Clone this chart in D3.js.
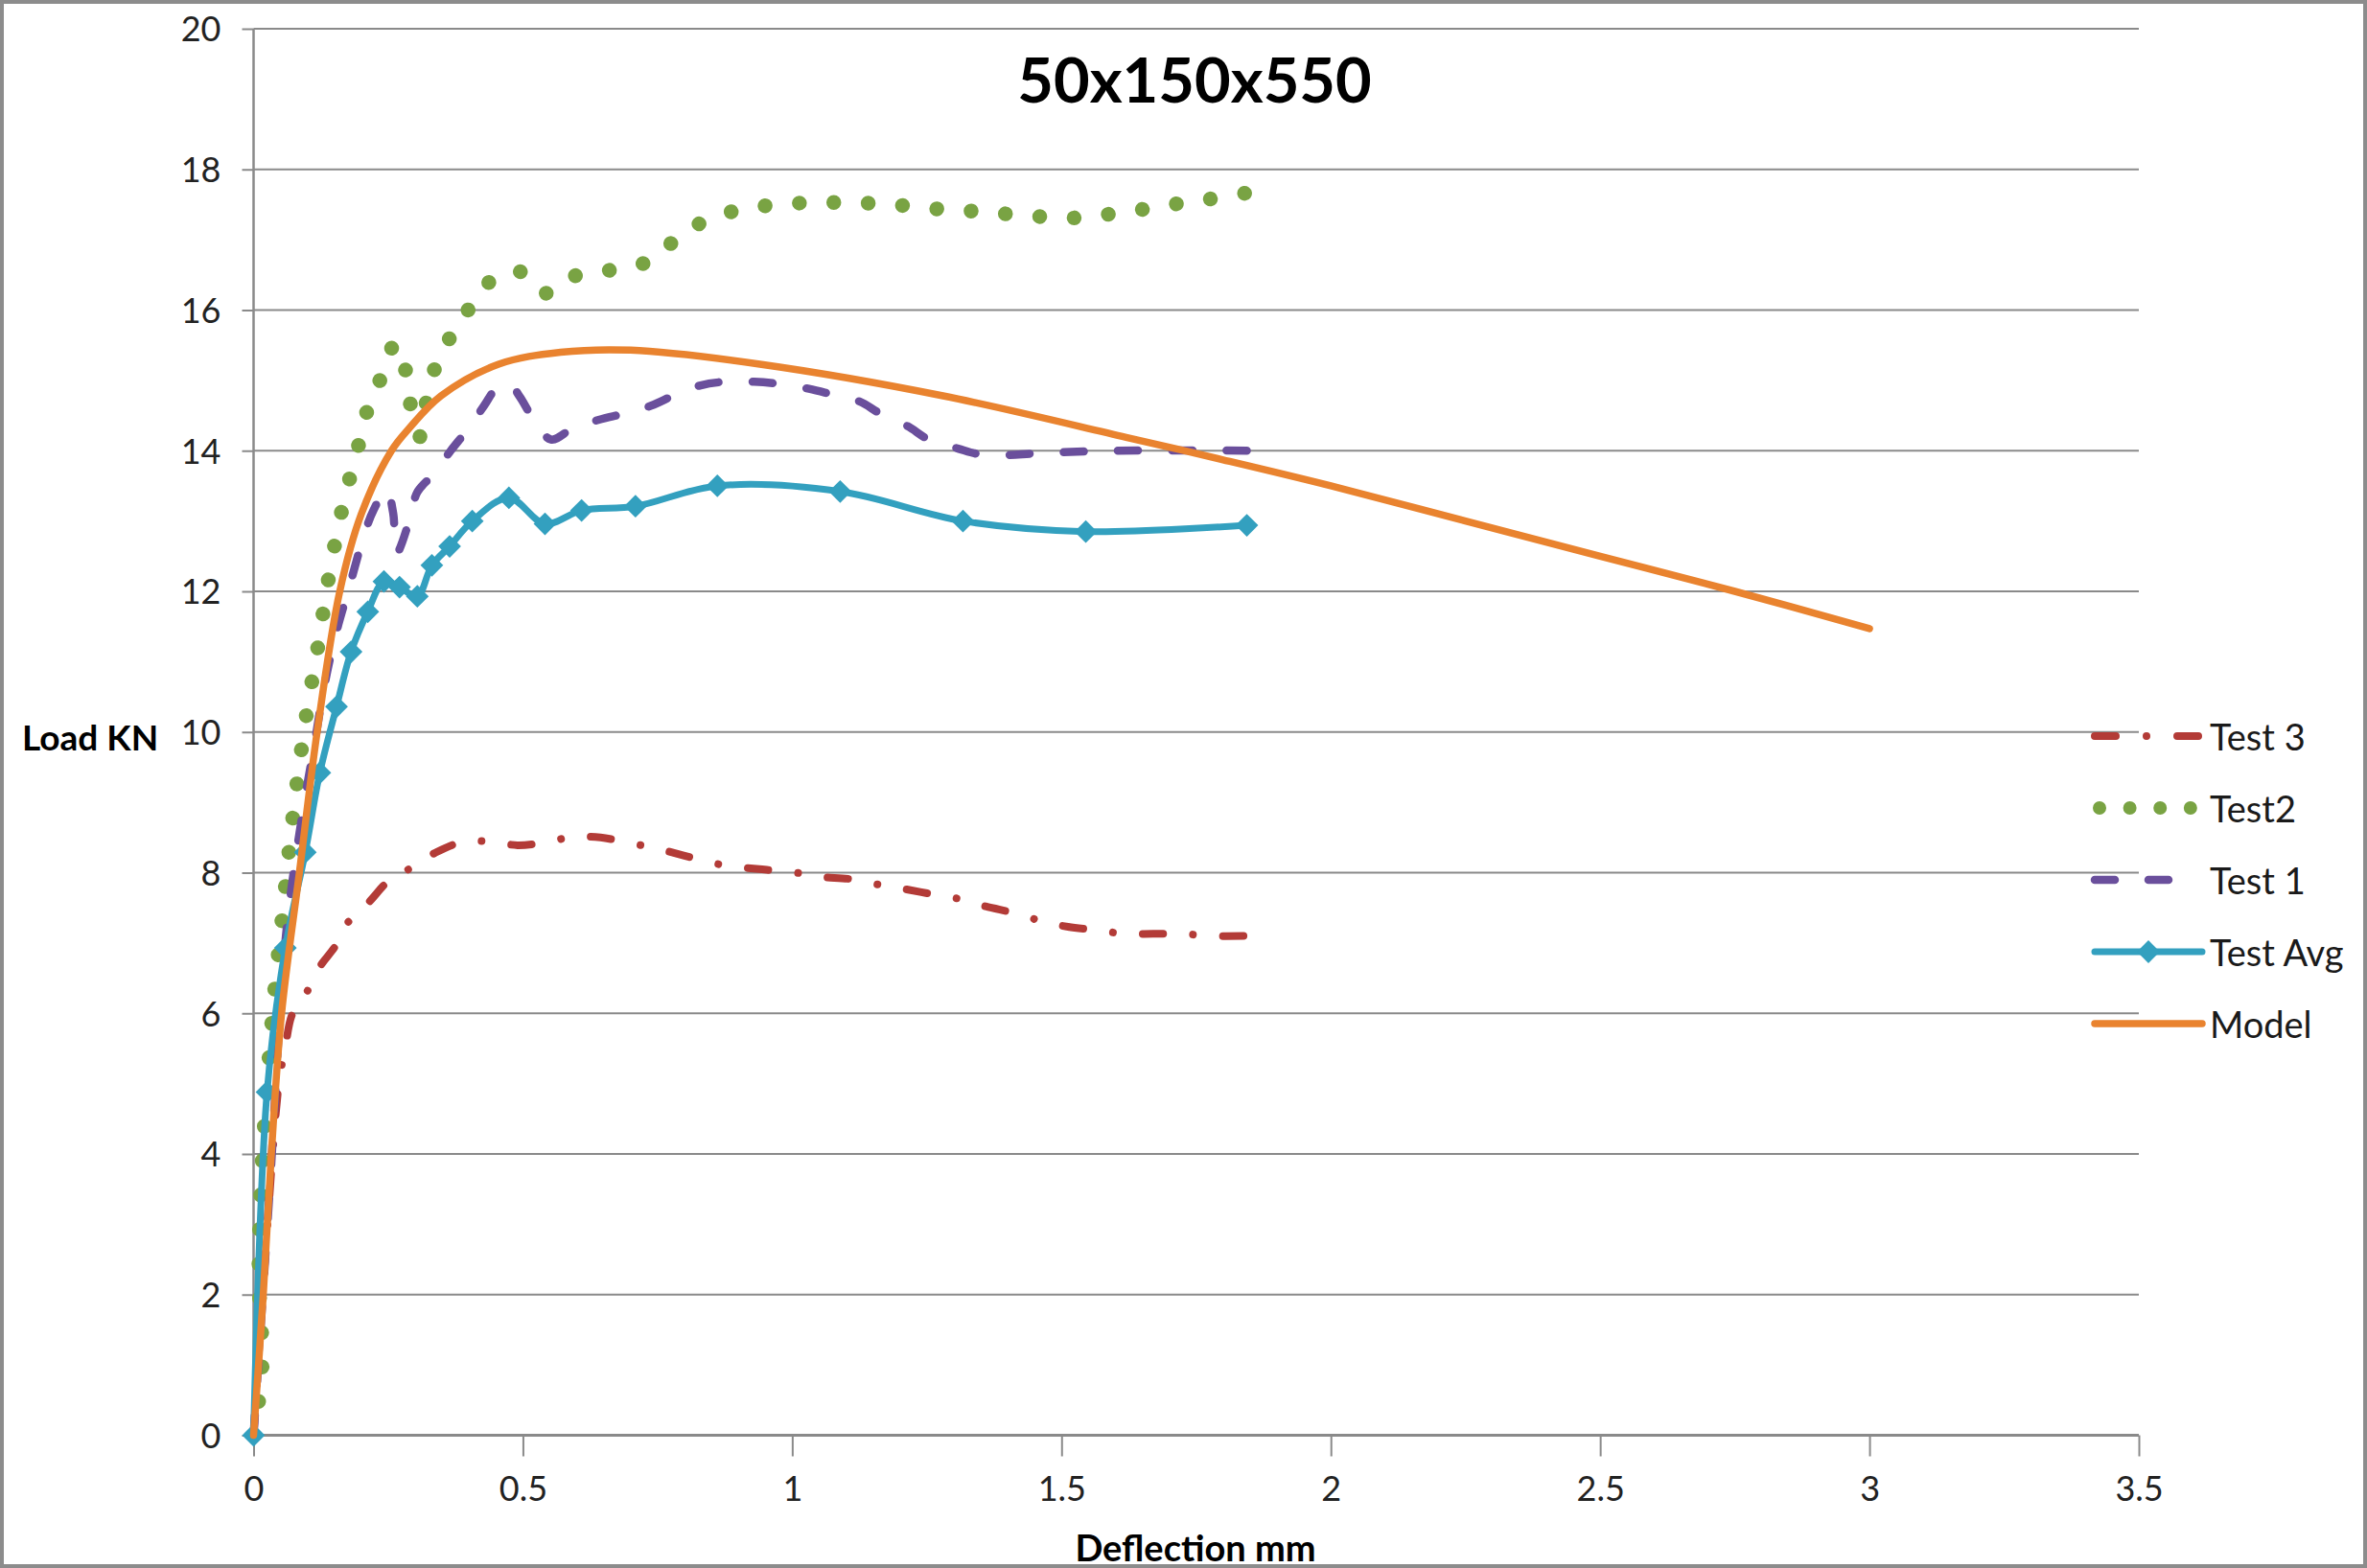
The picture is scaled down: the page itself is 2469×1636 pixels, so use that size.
<!DOCTYPE html>
<meta charset="utf-8">
<style>
body { margin: 0; background: #fff; }
svg { display: block; font-family: Lato, "Open Sans", sans-serif; }
.axis path { display: none; }
.axis line { stroke: #8a8a8a; stroke-width: 2; }
.axis text { fill: #222; font-size: 36px; font-family: Lato, sans-serif; }
.grid line { stroke: #8a8a8a; stroke-width: 2; }
.legend text { fill: #1a1a1a; font-size: 38px; }
</style>
<svg width="2469" height="1636"></svg>
<script src="https://cdn.jsdelivr.net/npm/d3@7"></script>
<script>
// tick values
const xTicks = [0, 0.5, 1, 1.5, 2, 2.5, 3, 3.5];
const yTicks = [0, 2, 4, 6, 8, 10, 12, 14, 16, 18, 20];

// Test 3 (dash dot)
const test3X = [0, 0.024, 0.047, 0.059, 0.072, 0.096, 0.12, 0.154, 0.174, 0.214, 0.253, 0.293, 0.339, 0.39, 0.44, 0.49, 0.542, 0.593, 0.644, 0.7, 0.75, 0.8, 0.85, 0.9, 0.953, 1.007, 1.053, 1.107, 1.16, 1.206, 1.263, 1.314, 1.359, 1.416, 1.467, 1.512, 1.567, 1.62, 1.67, 1.722, 1.78, 1.84];
const test3Y = [0, 2.8, 5.0, 5.53, 5.99, 6.26, 6.63, 6.98, 7.28, 7.58, 7.9, 8.07, 8.29, 8.44, 8.44, 8.39, 8.43, 8.51, 8.5, 8.42, 8.34, 8.24, 8.14, 8.08, 8.04, 8.0, 7.94, 7.91, 7.83, 7.77, 7.69, 7.62, 7.52, 7.42, 7.3, 7.23, 7.18, 7.13, 7.13, 7.13, 7.1, 7.1];

// Test2 (round dots)
const test2X = [0, 0.016, 0.01, 0.013, 0.02, 0.029, 0.04, 0.053, 0.066, 0.081, 0.099, 0.12, 0.14, 0.165, 0.197, 0.213, 0.238, 0.263, 0.283, 0.292, 0.309, 0.321, 0.336, 0.364, 0.4, 0.44, 0.493, 0.541, 0.594, 0.657, 0.72, 0.77, 0.823, 0.883, 0.947, 1.01, 1.074, 1.138, 1.2, 1.267, 1.329, 1.393, 1.459, 1.523, 1.585, 1.649, 1.713, 1.776, 1.84];
const test2Y = [0, 1.0, 2.2, 3.4, 4.4, 5.4, 6.4, 7.35, 8.32, 9.3, 10.29, 11.24, 12.22, 13.19, 14.14, 14.62, 15.06, 15.52, 15.12, 14.63, 14.2, 14.7, 15.16, 15.6, 16.02, 16.41, 16.55, 16.24, 16.48, 16.56, 16.65, 16.92, 17.21, 17.39, 17.48, 17.52, 17.53, 17.52, 17.49, 17.44, 17.41, 17.37, 17.33, 17.31, 17.36, 17.43, 17.51, 17.58, 17.66];

// Test 1 (long dash)
const test1X = [0, 0.03, 0.06, 0.09, 0.114, 0.131, 0.152, 0.179, 0.206, 0.223, 0.247, 0.259, 0.266, 0.289, 0.304, 0.333, 0.366, 0.395, 0.428, 0.449, 0.474, 0.494, 0.518, 0.552, 0.593, 0.641, 0.689, 0.738, 0.784, 0.83, 0.874, 0.929, 0.975, 1.031, 1.074, 1.125, 1.163, 1.214, 1.253, 1.308, 1.347, 1.402, 1.449, 1.6, 1.844];
const test1Y = [0, 3.5, 7.1, 8.8, 9.87, 10.64, 11.37, 12.1, 12.82, 13.16, 13.45, 13.12, 12.55, 13.0, 13.41, 13.66, 14.0, 14.28, 14.64, 14.87, 14.96, 14.77, 14.47, 14.16, 14.32, 14.44, 14.53, 14.64, 14.8, 14.93, 14.98, 14.98, 14.95, 14.88, 14.8, 14.7, 14.53, 14.35, 14.16, 14.03, 13.95, 13.94, 13.96, 14.0, 14.0];

// Test Avg (markers)
const avgX = [0, 0.025, 0.059, 0.096, 0.123, 0.154, 0.181, 0.212, 0.242, 0.271, 0.304, 0.331, 0.364, 0.406, 0.474, 0.541, 0.609, 0.709, 0.861, 1.089, 1.317, 1.545, 1.844];
const avgY = [0, 4.88, 6.93, 8.29, 9.42, 10.36, 11.14, 11.71, 12.14, 12.06, 11.93, 12.37, 12.64, 13.0, 13.33, 12.96, 13.15, 13.21, 13.5, 13.42, 13.0, 12.85, 12.94];

// Model
const modelX = [0, 0.018, 0.033, 0.052, 0.085, 0.118, 0.16, 0.2, 0.256, 0.289, 0.348, 0.455, 0.57, 0.7, 0.94, 1.28, 1.62, 1.8, 2.0, 2.25, 2.5, 2.75, 3.0];
const modelY = [0, 2, 4, 6, 8, 10, 12, 13.1, 14, 14.32, 14.78, 15.23, 15.4, 15.43, 15.23, 14.78, 14.19, 13.87, 13.5, 13.0, 12.5, 12.0, 11.47];

const seriesNames = ["Test 3", "Test2", "Test 1", "Test Avg", "Model"];

const zip = (xs, ys) => xs.map((v, i) => [v, ys[i]]);
const series = [
  { name: "Test 3", pts: zip(test3X, test3Y), color: "#b33b37", width: 8, dash: [22, 32, 0.01, 32], legendDash: "22,32,0.01,32", cap: "round" },
  { name: "Test2", pts: zip(test2X, test2Y), color: "#79a343", width: 15.5, dash: [0.01, 36], legendDash: "0.01,31.6", cap: "round" },
  { name: "Test 1", pts: zip(test1X, test1Y), color: "#6a4f9c", width: 8.5, dash: [21, 35], legendDash: "21,35", cap: "round" },
  { name: "Test Avg", pts: zip(avgX, avgY), color: "#33a0bf", width: 7, dash: null, cap: "round", marker: true },
  { name: "Model", pts: zip(modelX, modelY), color: "#e9832f", width: 7.5, dash: null, cap: "round" }
];

// stretch a dash pattern so the path ends on a dash
function fitDash(len, pattern) {
  const L = len - 1;
  const P = d3.sum(pattern);
  const n = Math.max(1, Math.round((L - pattern[0]) / P));
  const k = (L - pattern[0]) / (n * P);
  return pattern.map(v => v * k).join(",");
}

const svg = d3.select("svg");
svg.append("rect").attr("x", 2).attr("y", 2).attr("width", 2465).attr("height", 1632)
  .attr("fill", "#fff").attr("stroke", "#8c8c8c").attr("stroke-width", 4);

const x = d3.scaleLinear().domain([0, 3.5]).range([264.5, 2231]);
const y = d3.scaleLinear().domain([0, 20]).range([1497.5, 30]);

// gridlines
svg.append("g").attr("class", "grid")
  .selectAll("line").data(yTicks.filter(d => d > 0)).enter().append("line")
  .attr("x1", x(0)).attr("x2", x(3.5))
  .attr("y1", d => y(d)).attr("y2", d => y(d));

svg.append("g").attr("class", "axis")
  .attr("transform", "translate(" + x(0) + ",0)")
  .call(d3.axisLeft(y).tickValues(yTicks).tickSize(12).tickSizeOuter(0).tickPadding(22).tickFormat(String))
  .selectAll("text").attr("dy", "0.36em");

svg.append("g").attr("class", "axis")
  .attr("transform", "translate(0," + y(0) + ")")
  .call(d3.axisBottom(x).tickValues(xTicks).tickSize(22).tickSizeOuter(0).tickPadding(21).tickFormat(String));

// axis lines
svg.append("line").attr("x1", x(0)).attr("x2", x(0)).attr("y1", y(20)).attr("y2", y(0))
  .attr("stroke", "#8a8a8a").attr("stroke-width", 2.5);
svg.append("line").attr("x1", x(0)).attr("x2", x(3.5)).attr("y1", y(0)).attr("y2", y(0))
  .attr("stroke", "#8a8a8a").attr("stroke-width", 3);

const line = d3.line().x(d => x(d[0])).y(d => y(d[1])).curve(d3.curveCatmullRom.alpha(0.5));
const diamond = d3.symbol().type(d3.symbolDiamond2).size(360);

series.forEach(s => {
  const p = svg.append("path").datum(s.pts)
    .attr("d", line)
    .attr("fill", "none")
    .attr("stroke", s.color)
    .attr("stroke-width", s.width)
    .attr("stroke-linecap", s.cap)
    .attr("stroke-linejoin", "round");
  if (s.dash) p.attr("stroke-dasharray", fitDash(p.node().getTotalLength(), s.dash));
  if (s.marker) {
    svg.append("g").selectAll("path").data(s.pts).enter().append("path")
      .attr("d", diamond)
      .attr("transform", d => "translate(" + x(d[0]) + "," + y(d[1]) + ")")
      .attr("fill", s.color);
  }
});

// titles
svg.append("text").attr("x", 1246).attr("y", 82).attr("text-anchor", "middle")
  .attr("dominant-baseline", "central").attr("font-size", 65).attr("font-weight", "bold")
  .attr("fill", "#000").text("50x150x550");
svg.append("text").attr("x", 23).attr("y", 768)
  .attr("dominant-baseline", "central").attr("font-size", 37).attr("font-weight", "bold")
  .attr("fill", "#000").text("Load KN");
svg.append("text").attr("x", 1247).attr("y", 1614).attr("text-anchor", "middle")
  .attr("dominant-baseline", "central").attr("font-size", 38).attr("font-weight", "bold")
  .attr("fill", "#000").text("Deflection mm");

// legend
const legend = svg.append("g").attr("class", "legend");
const rows = legend.selectAll("g").data(series).enter().append("g")
  .attr("transform", (d, i) => "translate(2185," + (768 + i * 75) + ")");
rows.append("line").attr("x1", d => d.name === "Test2" ? 5 : 0).attr("x2", d => d.name === "Test2" ? 101 : 112)
  .attr("y1", 0).attr("y2", 0)
  .attr("stroke", d => d.color).attr("stroke-width", d => d.name === "Test2" ? 14 : d.width)
  .attr("stroke-linecap", d => d.cap).attr("stroke-dasharray", d => d.legendDash || null);
rows.filter(d => d.marker).append("path").attr("d", diamond)
  .attr("transform", "translate(56,0)").attr("fill", d => d.color);
rows.append("text").attr("x", 120).attr("y", 0).attr("dominant-baseline", "central")
  .text((d, i) => seriesNames[i]);
</script>
